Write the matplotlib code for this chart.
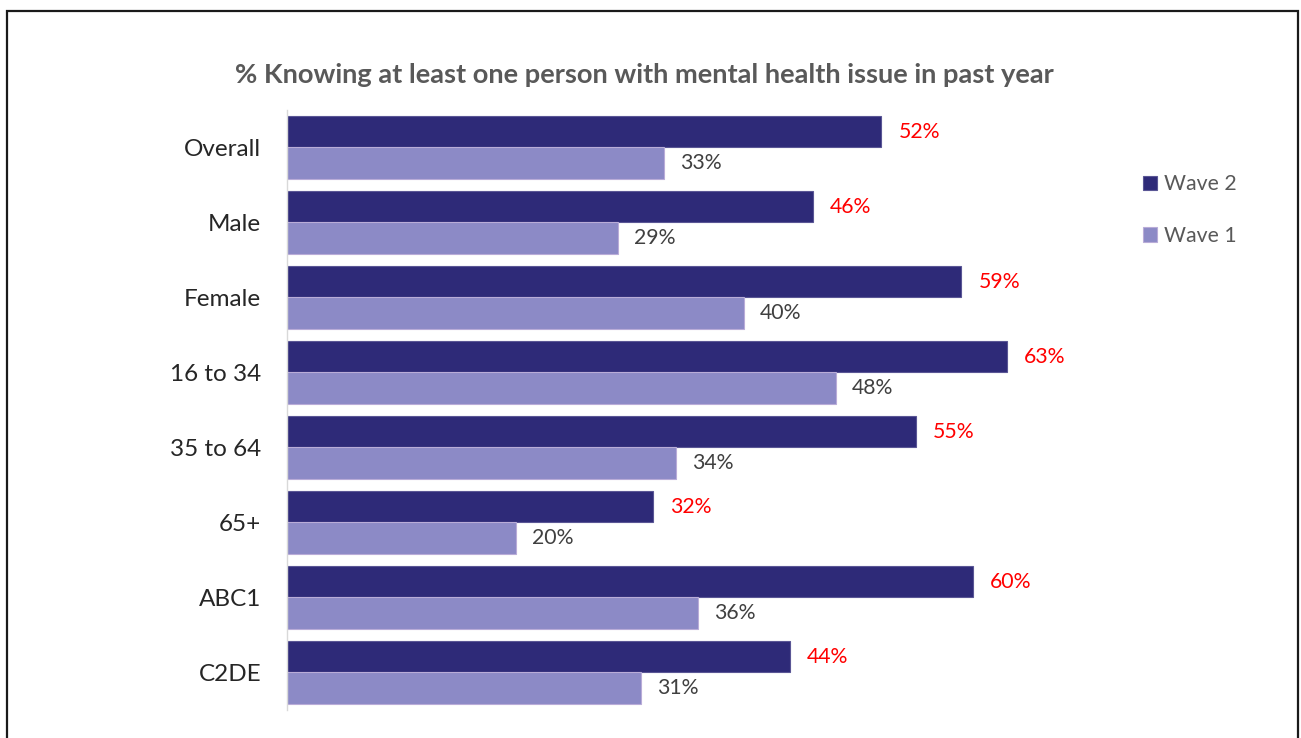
import matplotlib

matplotlib.use("Agg")
import matplotlib.pyplot as plt
import numpy as np
from matplotlib.patches import Rectangle

plt.rcParams["font.family"] = ["Lato", "DejaVu Sans"]

categories = ["Overall", "Male", "Female", "16 to 34", "35 to 64", "65+", "ABC1", "C2DE"]
wave2 = [52, 46, 59, 63, 55, 32, 60, 44]
wave1 = [33, 29, 40, 48, 34, 20, 36, 31]

COLOR_W2 = "#2E2A78"
COLOR_W1 = "#8C8AC6"

fig = plt.figure(figsize=(13.01, 7.38), dpi=100)
ax = fig.add_axes([0.2206, 0.038, 0.6149, 0.813])

y = np.arange(len(categories))
h = 0.425
ax.barh(y - h / 2, wave2, height=h, color=COLOR_W2, edgecolor="#5a5695",
        linewidth=0.8, label="Wave 2")
ax.barh(y + h / 2, wave1, height=h, color=COLOR_W1, edgecolor="#b9acd8",
        linewidth=0.8, label="Wave 1")

for yi, v in zip(y, wave2):
    ax.text(v + 1.5, yi - h / 2, f"{v}%", va="center", ha="left",
            fontsize=15.3, color="#ff0000")
for yi, v in zip(y, wave1):
    ax.text(v + 1.4, yi + h / 2, f"{v}%", va="center", ha="left",
            fontsize=15.3, color="#404040")

ax.set_xlim(0, 70)
ax.set_ylim(len(categories) - 0.5, -0.5)
ax.set_yticks(y)
ax.set_yticklabels(categories, fontsize=17.5, color="#262626")
ax.tick_params(axis="y", length=0, pad=18.5)
ax.set_xticks([])
for side in ("top", "right", "bottom"):
    ax.spines[side].set_visible(False)
ax.spines["left"].set_color("#d9d9d9")
ax.spines["left"].set_linewidth(1.0)

fig.text(0.495, 0.898, "% Knowing at least one person with mental health issue in past year",
         ha="center", va="center", fontsize=19.6, fontweight="bold", color="#595959")

leg = fig.legend(loc="upper left", bbox_to_anchor=(0.864, 0.79), frameon=False,
                 fontsize=15.3, handlelength=0.65, handleheight=0.65,
                 handletextpad=0.35, labelspacing=1.5)
for txt in leg.get_texts():
    txt.set_color("#595959")

# outer frame around the whole chart
fig.patches.append(Rectangle((7 / 1301, -0.05), 1291 / 1301, 1.05 - 11 / 738,
                             transform=fig.transFigure, fill=False,
                             edgecolor="#1a1a1a", linewidth=1.6))

fig.savefig("out.png", dpi=100)
